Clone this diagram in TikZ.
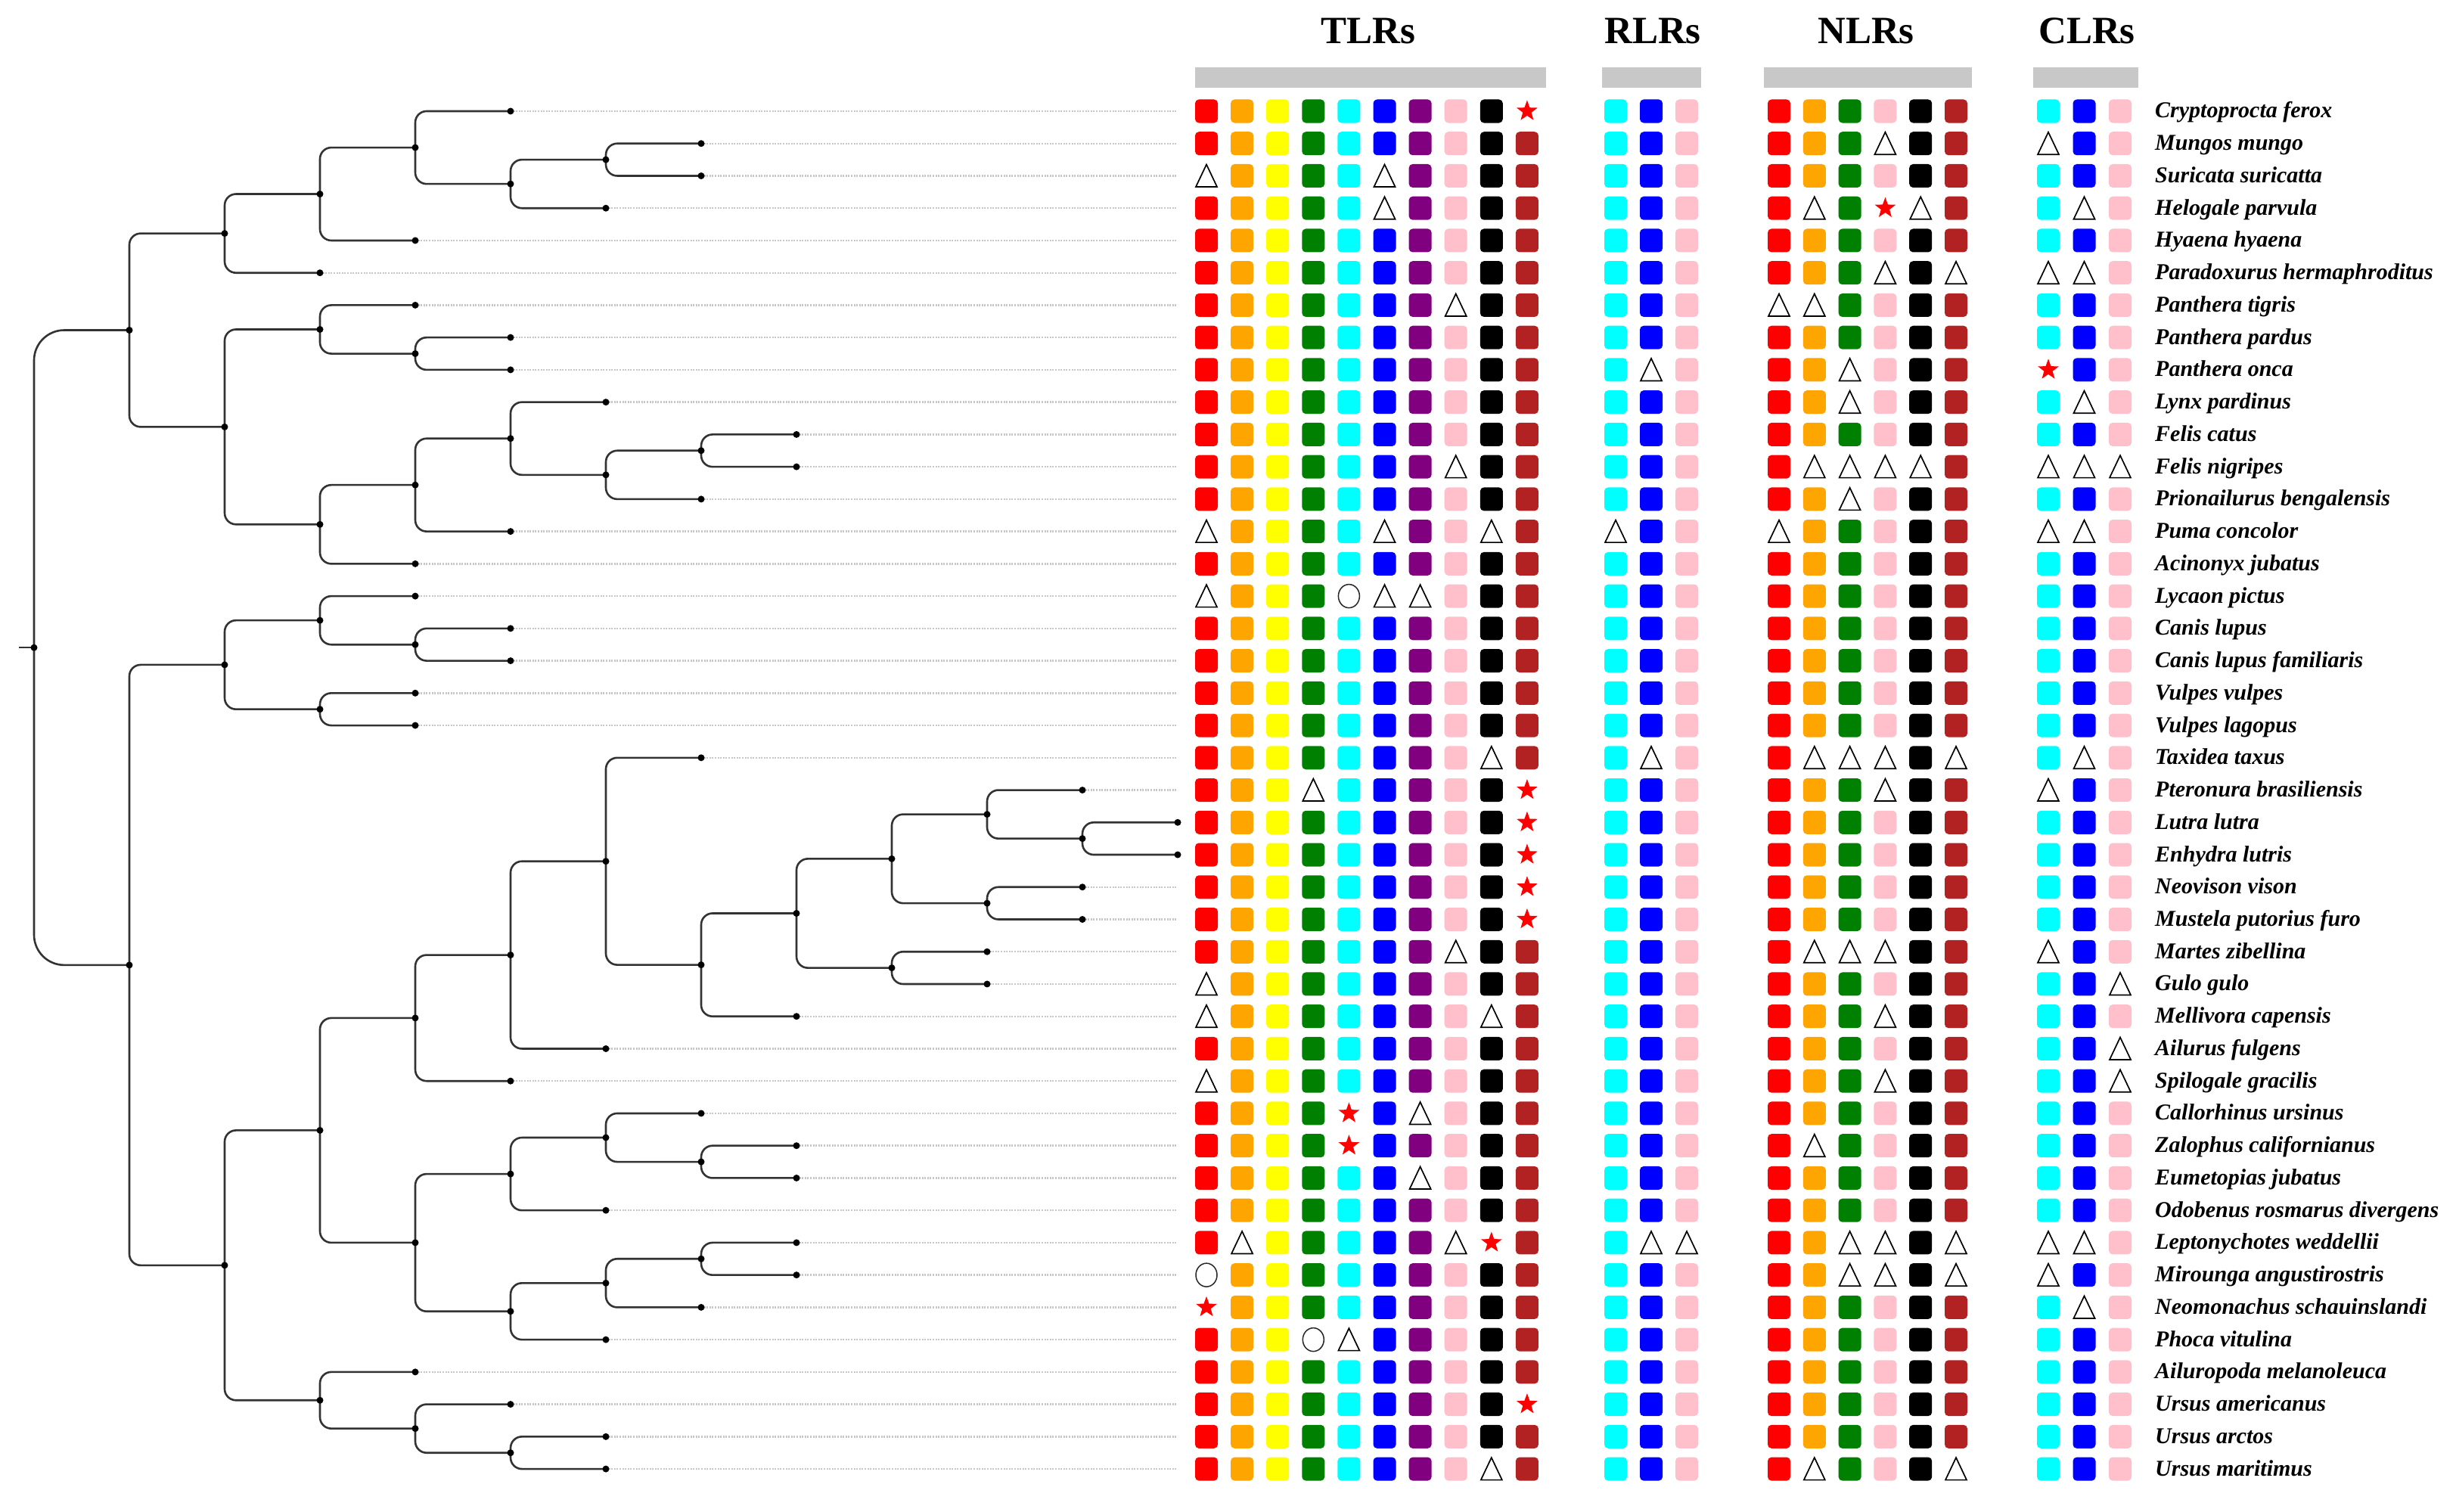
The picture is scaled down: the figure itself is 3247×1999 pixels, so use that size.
\documentclass[tikz,border=0pt]{standalone}
\usepackage{fontspec}
\setmainfont{Liberation Serif}
\usetikzlibrary{shapes.geometric}
\definecolor{cR}{HTML}{FF0000}
\definecolor{cO}{HTML}{FFA500}
\definecolor{cY}{HTML}{FFFF00}
\definecolor{cG}{HTML}{008000}
\definecolor{cC}{HTML}{00FFFF}
\definecolor{cB}{HTML}{0000FF}
\definecolor{cP}{HTML}{800080}
\definecolor{cK}{HTML}{FFC0CB}
\definecolor{cBk}{HTML}{000000}
\definecolor{cF}{HTML}{B22222}
\definecolor{barg}{HTML}{C8C8C8}
\begin{document}
\begin{tikzpicture}[x=1pt,y=-1pt,
  branch/.style={draw=black!80,line width=2.6pt,rounded corners=15pt},
  guide/.style={draw=black!22,line width=2.4pt,dash pattern=on 2pt off 1.6pt},
  lab/.style={anchor=base west,inner sep=0pt,font=\fontsize{30}{36}\selectfont\bfseries\itshape},
  head/.style={anchor=base,inner sep=0pt,font=\fontsize{51}{60}\selectfont\bfseries},
  starsym/.style={star,star points=5,star point ratio=2.45,fill=red,draw=none,minimum size=29pt,inner sep=0pt},
  trisym/.style={draw=black,line width=1.7pt,line join=miter,fill=white},
  circsym/.style={draw=black!85,line width=1.5pt}]
\fill[white] (0,0) rectangle (3247,1999);
\useasboundingbox (0,0) rectangle (3247,1999);

% headers and bars
\fill[barg] (1580,89) rectangle (2044,116);
\fill[barg] (2118,89) rectangle (2249,116);
\fill[barg] (2332,89) rectangle (2607,116);
\fill[barg] (2688,89) rectangle (2827,116);
\node[head] (hT) at (1809,58) {TLRs};
\node[head] (hR) at (2185,58) {RLRs};
\node[head] (hN) at (2467,58) {NLRs};
\node[head] (hC) at (2759,58) {CLRs};

% tips and labels
\coordinate (gx) at (1557,0);
\foreach \i/\L/\nm in {1/5/Cryptoprocta ferox,2/7/Mungos mungo,3/7/Suricata suricatta,4/6/Helogale parvula,5/4/Hyaena hyaena,6/3/Paradoxurus hermaphroditus,7/4/Panthera tigris,8/5/Panthera pardus,9/5/Panthera onca,10/6/Lynx pardinus,11/8/Felis catus,12/8/Felis nigripes,13/7/Prionailurus bengalensis,14/5/Puma concolor,15/4/Acinonyx jubatus,16/4/Lycaon pictus,17/5/Canis lupus,18/5/Canis lupus familiaris,19/4/Vulpes vulpes,20/4/Vulpes lagopus,21/7/Taxidea taxus,22/11/Pteronura brasiliensis,23/12/Lutra lutra,24/12/Enhydra lutris,25/11/Neovison vison,26/11/Mustela putorius furo,27/10/Martes zibellina,28/10/Gulo gulo,29/8/Mellivora capensis,30/6/Ailurus fulgens,31/5/Spilogale gracilis,32/7/Callorhinus ursinus,33/8/Zalophus californianus,34/8/Eumetopias jubatus,35/6/Odobenus rosmarus divergens,36/8/Leptonychotes weddellii,37/8/Mirounga angustirostris,38/7/Neomonachus schauinslandi,39/6/Phoca vitulina,40/4/Ailuropoda melanoleuca,41/5/Ursus americanus,42/6/Ursus arctos,43/6/Ursus maritimus}{
  \coordinate (t\i) at ({45+126*\L},{147+42.74*(\i-1)});
  \node[lab] (lab\i) at (2849,{156+42.74*(\i-1)}) {\nm};
}
\foreach \i in {1,...,22,25,26,...,43} \draw[guide] (t\i) -- (t\i -| gx);

% internal nodes
\foreach \n/\L/\rr in {R/0/17.59302,F/1/7.7734375,a5/2/4.78125,a4/3/3.5625,a3/4/2.125,a2/5/3.25,a1/6/2.5,b8/2/10.765625,b2/3/7.75,b1/4/8.5,b7/3/13.78125,b6/4/12.5625,b5/5/11.125,b4/6/12.25,b3/7/11.5,C/1/27.4126,c4/2/18.125,c2/3/16.75,c1/4/17.5,c3/3/19.5,A/2/36.7002,q/3/32.52539,m10/4/29.05078,m9/5/27.10156,m8/6/24.20313,m7/7/27.40625,m6/8/25.8125,m4/9/24.125,m2/10/22.75,m1/11/23.5,m3/10/25.5,m5/9/27.5,p7/4/36,p3/5/33.875,p2/6/32.75,p1/7/33.5,p6/5/38.125,p5/6/37.25,p4/7/36.5,u3/3/40.875,u2/4/41.75,u1/5/42.5}
  \coordinate (\n) at ({45+126*\L},{147+42.74*(\rr-1)});
\coordinate (R0) at (25,{147+42.74*16.59302});

% branches
\draw[branch] (R0) -- (R);
\draw[branch,rounded corners=40pt] (R) |- (F);
\draw[branch,rounded corners=40pt] (R) |- (C);
\foreach \p/\ch in {F/a5,F/b8,a5/a4,a5/t6,a4/a3,a4/t5,a3/t1,a3/a2,a2/a1,a2/t4,a1/t2,a1/t3,b8/b2,b8/b7,b2/t7,b2/b1,b1/t8,b1/t9,b7/b6,b7/t15,b6/b5,b6/t14,b5/t10,b5/b4,b4/b3,b4/t13,b3/t11,b3/t12,C/c4,C/A,c4/c2,c4/c3,c2/t16,c2/c1,c1/t17,c1/t18,c3/t19,c3/t20,A/q,A/u3,q/m10,q/p7,m10/m9,m10/t31,m9/m8,m9/t30,m8/t21,m8/m7,m7/m6,m7/t29,m6/m4,m6/m5,m4/m2,m4/m3,m2/t22,m2/m1,m1/t23,m1/t24,m3/t25,m3/t26,m5/t27,m5/t28,p7/p3,p7/p6,p3/p2,p3/t35,p2/t32,p2/p1,p1/t33,p1/t34,p6/p5,p6/t39,p5/p4,p5/t38,p4/t36,p4/t37,u3/t40,u3/u2,u2/t41,u2/u1,u1/t42,u1/t43}
  \draw[branch] (\p) |- (\ch);
\foreach \n in {R,F,a5,a4,a3,a2,a1,b8,b2,b1,b7,b6,b5,b4,b3,C,c4,c2,c1,c3,A,q,m10,m9,m8,m7,m6,m4,m2,m1,m3,m5,p7,p3,p2,p1,p6,p5,p4,u3,u2,u1}
  \fill[black] (\n) circle (4.5pt);
\foreach \i in {1,...,43} \fill[black] (t\i) circle (4.5pt);

% exceptions in the grid: t = triangle, r = star, o = circle
\foreach \ri/\ci/\kk in {1/10/r,2/17/t,2/20/t,3/1/t,3/6/t,4/6/t,4/15/t,4/17/r,4/18/t,4/21/t,6/17/t,6/19/t,6/20/t,6/21/t,7/8/t,7/14/t,7/15/t,9/12/t,9/16/t,9/20/r,10/16/t,10/21/t,12/8/t,12/15/t,12/16/t,12/17/t,12/18/t,12/20/t,12/21/t,12/22/t,13/16/t,14/1/t,14/6/t,14/9/t,14/11/t,14/14/t,14/20/t,14/21/t,16/1/t,16/5/o,16/6/t,16/7/t,21/9/t,21/12/t,21/15/t,21/16/t,21/17/t,21/19/t,21/21/t,22/4/t,22/10/r,22/17/t,22/20/t,23/10/r,24/10/r,25/10/r,26/10/r,27/8/t,27/15/t,27/16/t,27/17/t,27/20/t,28/1/t,28/22/t,29/1/t,29/9/t,29/17/t,30/22/t,31/1/t,31/17/t,31/22/t,32/5/r,32/7/t,33/5/r,33/15/t,34/7/t,36/2/t,36/8/t,36/9/r,36/12/t,36/13/t,36/16/t,36/17/t,36/19/t,36/20/t,36/21/t,37/1/o,37/16/t,37/17/t,37/19/t,37/20/t,38/1/r,38/21/t,39/4/o,39/5/t,41/10/r,43/9/t,43/15/t,43/19/t}
  {\expandafter\xdef\csname ex\ri-\ci\endcsname{\kk}}

% grid
\foreach \ri in {1,...,43}{
  \pgfmathsetmacro\yy{147+42.74*(\ri-1)}
  \foreach \xx/\cl [count=\ci] in {1595/cR,1642.1/cO,1689.2/cY,1736.3/cG,1783.4/cC,1830.5/cB,1877.6/cP,1924.7/cK,1971.8/cBk,2018.9/cF,2136/cC,2183/cB,2230/cK,2352/cR,2398.8/cO,2445.6/cG,2492.4/cK,2539.2/cBk,2586/cF,2708/cC,2755.5/cB,2803/cK}{
    \ifcsname ex\ri-\ci\endcsname
      \edef\kind{\csname ex\ri-\ci\endcsname}%
    \else
      \def\kind{s}%
    \fi
    \if s\kind
      \fill[\cl,rounded corners=5pt] (\xx-15,\yy-15.5) rectangle (\xx+15,\yy+15.5);
    \fi
    \if t\kind
      \draw[trisym] (\xx-14,\yy+14.5) -- (\xx,\yy-15) -- (\xx+14,\yy+14.5) -- cycle;
    \fi
    \if r\kind
      \node[starsym] (st\ri-\ci) at (\xx,\yy) {};
    \fi
    \if o\kind
      \draw[circsym] (\xx,\yy) ellipse (14pt and 15.5pt);
    \fi
  }
}
\end{tikzpicture}
\end{document}
